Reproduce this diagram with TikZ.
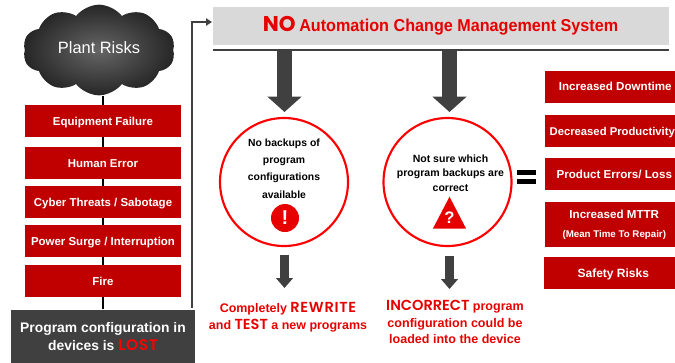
\documentclass[tikz,border=0pt]{standalone}
\usepackage{fontspec}
\setmainfont{Liberation Sans}
\newfontfamily\disp{Poppins}[BoldFont={* SemiBold}]
\newfontfamily\dispw{Poppins}[BoldFont={* SemiBold},LetterSpace=5]
\newfontfamily\dispb{Poppins}
\newfontfamily\narrowb{Liberation Sans}[FakeStretch=0.94]
\usetikzlibrary{shapes.symbols,shapes.geometric,arrows.meta,backgrounds}
\definecolor{boxred}{HTML}{C00000}
\definecolor{txtred}{HTML}{E60000}
\definecolor{darkbox}{HTML}{404040}
\definecolor{banner}{HTML}{D9D9D9}
\newcommand{\px}[2]{\fontsize{#1}{#2}\selectfont}
\tikzset{
  redbox/.style={fill=boxred,text=white,font=\bfseries\px{8.6}{13},minimum width=117pt,minimum height=24pt,inner sep=0pt,align=center,text height=.72em,text depth=.05em},
  sidebox/.style={fill=boxred,text=white,font=\bfseries\px{8.7}{14},minimum height=24pt,inner sep=0pt,align=center,anchor=west,text height=.72em,text depth=.05em},
  ring/.style={circle,draw=red,line width=1.6pt,fill=white,minimum size=96pt,inner sep=0pt},
  ringtext/.style={font=\bfseries\px{7.8}{13},align=center,inner sep=0pt,text=black},
  redtext/.style={font=\bfseries\px{9.35}{12.6},align=center,inner sep=0pt,text=txtred},
  bigarrow/.style={draw=darkbox,line width=11.5pt,-{Triangle[width=25pt,length=11.5pt]}},
  smallarrow/.style={draw=darkbox,line width=7pt,-{Triangle[width=12.5pt,length=7.5pt]}},
}
\begin{document}
\begin{tikzpicture}[x=0.75pt,y=-0.75pt]
\useasboundingbox (0,0) rectangle (675,362);
\clip (0,0) rectangle (675,362);
% banner
\node[fill=banner,minimum width=342pt,minimum height=28.5pt,inner sep=0pt] (ban) at (441,26) {};
\node[text=txtred,inner sep=0pt] (bantxt) at (440.5,26) {{\dispb\bfseries\px{16}{18}NO} {\narrowb\bfseries\px{12.9}{18}Automation Change Management System}};
\coordinate (ruleL) at (213,50);
\coordinate (ruleR) at (669,50);
\coordinate (banin) at (212,22);
\draw[darkbox,line width=1.6pt] (ruleL) -- (ruleR);
% cloud
\node[cloud,cloud puffs=10,cloud puff arc=105,aspect=1.7,inner sep=0pt,minimum width=114pt,minimum height=68pt,
  inner color=black!60,outer color=black!85,text=white,font=\px{12.3}{14},text depth=.35em] (cloud) at (99,50) {Plant Risks};
% left stack
\node[redbox] (eq) at (103,121) {Equipment Failure};
\node[redbox] (hu) at (103,163) {Human Error};
\node[redbox] (cy) at (103,202) {Cyber Threats / Sabotage};
\node[redbox] (po) at (103,241) {Power Surge / Interruption};
\node[redbox] (fi) at (103,281) {Fire};
\node[fill=darkbox,text=white,font=\bfseries\px{10.4}{14},align=center,minimum width=138pt,minimum height=40.5pt,inner sep=0pt] (lost) at (103,336.5)
  {Program configuration in\\devices is {\color{red}\dispw\bfseries\px{11.5}{14}LOST}};
\begin{pgfonlayer}{background}
\draw[black,line width=1.3pt] (lost.north) -- (lost.north |- cloud.south);
\end{pgfonlayer}
\coordinate (up) at (192,308);
\draw[darkbox,line width=0.9pt,-{Triangle[width=5.5pt,length=4.5pt]}] (up) |- (banin);
% rings
\node[ring] (c1) at (284,182) {};
\node[ring] (c2) at (447.5,182) {};
\node[ringtext] (t1) at (284,168.5) {No backups of\\program\\configurations\\available};
\node[ringtext,font=\bfseries\px{7.9}{10.9}] (t2) at (450.5,173) {Not sure which\\program backups are\\correct};
\node[circle,fill=txtred,minimum size=21pt,inner sep=0pt,text=white,font=\bfseries\px{15}{15}] (ex) at (285,218) {!};
\node[isosceles triangle,isosceles triangle apex angle=55,shape border rotate=90,fill=txtred,minimum height=24pt,minimum width=24.5pt,inner sep=0pt,anchor=lower side] (tri) at (449.5,229) {};
\node[text=white,font=\bfseries\px{12.5}{12.5},inner sep=0pt] (qm) at (449.5,218) {?};
% arrows from banner
\coordinate (a1) at (284.5,50);
\coordinate (a2) at (449.5,50);
\coordinate (b1) at (284.5,112);
\coordinate (b2) at (449.5,112);
\draw[bigarrow] (a1) -- (b1);
\draw[bigarrow] (a2) -- (b2);
% outcomes
\node[redtext,font=\bfseries\px{9.35}{12.75}] (o1) at (288,317) {Completely {\dispw\bfseries\px{10.9}{12.6}REWRITE}\\and {\disp\bfseries\px{10.9}{12.6}TEST} a new programs};
\node[redtext,font=\bfseries\px{9.4}{12.3}] (o2) at (455,322) {{\disp\bfseries\px{10.9}{12.3}INCORRECT} program\\configuration could be\\loaded into the device};
\coordinate (s1) at (284.5,255);
\coordinate (s2) at (449.5,256);
\coordinate (e1) at (284.5,288);
\coordinate (e2) at (449.5,289);
\draw[smallarrow] (s1) -- (e1);
\draw[smallarrow] (s2) -- (e2);
% equals
\node[inner sep=0pt,fill=black,minimum width=14.5pt,minimum height=3.8pt] (eqa) at (526.5,172.5) {};
\node[inner sep=0pt,fill=black,minimum width=14.5pt,minimum height=3.8pt] (eqb) at (526.5,181.5) {};
% right stack
\node[sidebox,minimum width=105pt] (r1) at (545,86.5) {Increased Downtime};
\node[sidebox,minimum width=100.5pt,font=\bfseries\px{8.45}{14}] (r2) at (545,131) {Decreased Productivity};
\node[sidebox,minimum width=103.5pt] (r3) at (545,174) {Product Errors/ Loss};
\node[sidebox,minimum width=103.5pt,minimum height=33.75pt,text height=,text depth=] (r4) at (545,224.5) {Increased MTTR\\{\px{7.3}{9}(Mean Time To Repair)}};
\node[sidebox,minimum width=103.5pt,font=\bfseries\px{9}{14}] (r5) at (544,273) {Safety Risks};
\end{tikzpicture}
\end{document}
